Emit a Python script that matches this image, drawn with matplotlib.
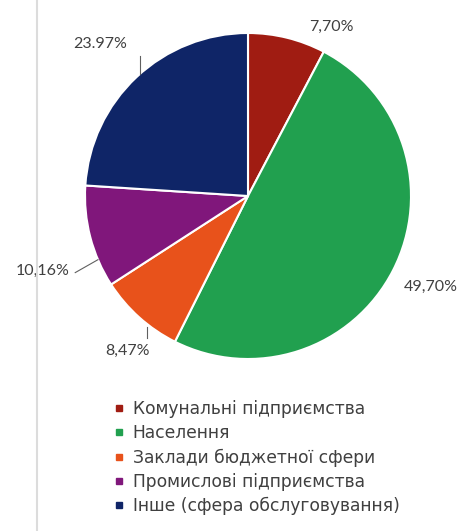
import matplotlib.pyplot as plt
from matplotlib.lines import Line2D
import numpy as np

plt.rcParams['font.family'] = ['Lato', 'DejaVu Sans']

# Structure of consumers
categories = ['Комунальні підприємства', 'Населення', 'Заклади бюджетної сфери',
              'Промислові підприємства', 'Інше (сфера обслуговування)']
shares = [7.70, 49.70, 8.47, 10.16, 23.97]
pct_labels = ['7,70%', '49,70%', '8,47%', '10,16%', '23.97%']
colors = ['#a01c12', '#21a04f', '#e8521b', '#80177b', '#0f2567']

# label placement (x, y) in units of pie radius, and leader line end angle (deg) or None
label_pos = [(0.51, 1.04), (1.12, -0.56), (-0.74, -0.95), (-1.26, -0.46), (-0.91, 0.93)]
leader_angle = [None, None, -128.5, -157.0, 131.5]

fig = plt.figure(figsize=(4.7, 5.31), dpi=100)
ax = fig.add_axes([0, 0, 1, 1])

wedges, _ = ax.pie(shares, colors=colors, startangle=90, counterclock=False,
                   radius=1.0, wedgeprops=dict(edgecolor='white', linewidth=1.5),
                   frame=True)
ax.set_xlim(-248 / 163, 222 / 163)
ax.set_ylim(-335 / 163, 196 / 163)
ax.set_aspect('auto')
ax.axis('off')

for txt, (lx, ly), ang in zip(pct_labels, label_pos, leader_angle):
    ax.text(lx, ly, txt, ha='center', va='center', fontsize=11.5, color='#404040')
    if ang is not None:
        px, py = np.cos(np.radians(ang)), np.sin(np.radians(ang))
        if ang == 131.5:
            ax.plot([px, px], [ly - 0.07, py], color='#606060', lw=0.8)
        elif ang == -128.5:
            ax.plot([px, px], [py - 0.02, ly + 0.08], color='#606060', lw=0.8)
        else:
            ax.plot([lx + 0.2, px], [ly - 0.01, py], color='#606060', lw=0.8)

# faint vertical border line on the left
fig.add_artist(Line2D([37 / 470, 37 / 470], [0, 1], color='#dcdcdc', lw=1.5))

handles = [Line2D([], [], marker='s', ls='', markersize=4.5, color=c) for c in colors]
leg = fig.legend(handles, categories, loc='upper left', bbox_to_anchor=(114 / 470, 1 - 400 / 531),
                 frameon=False, prop={'family': 'DejaVu Sans', 'size': 12.3},
                 handlelength=0.6, handletextpad=0.5,
                 labelspacing=0.36, borderaxespad=0, borderpad=0)
for t in leg.get_texts():
    t.set_color('#404040')

fig.savefig('out.png', dpi=100)
